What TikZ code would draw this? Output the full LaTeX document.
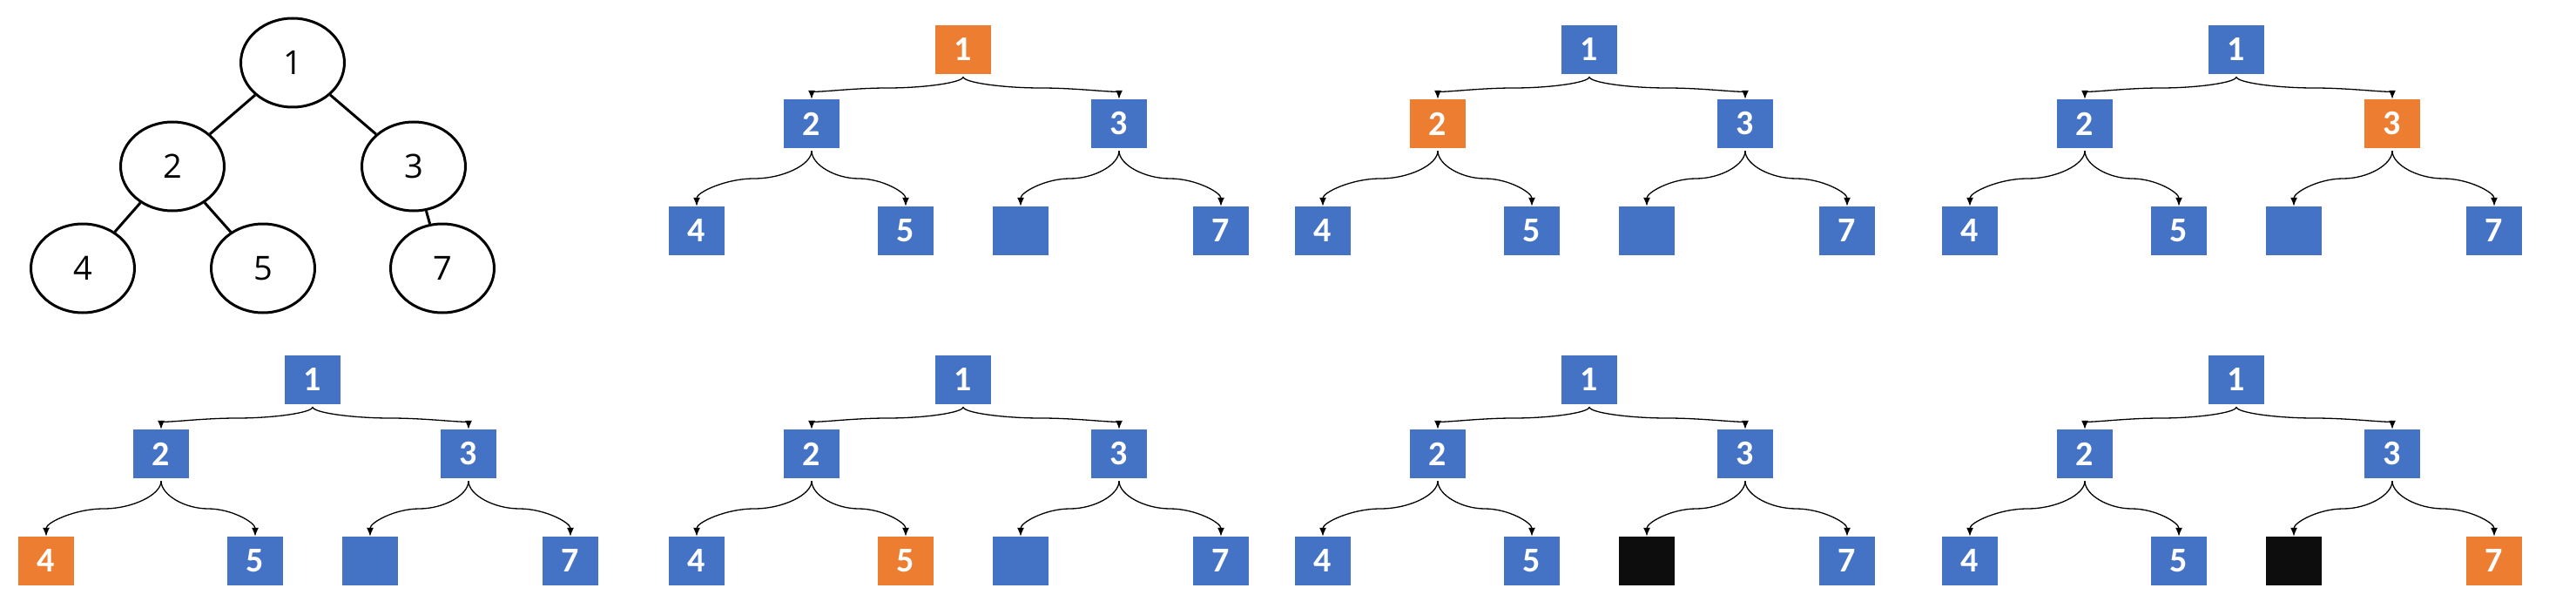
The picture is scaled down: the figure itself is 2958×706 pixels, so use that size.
\documentclass[tikz,border=0pt]{standalone}
\usepackage{fontspec}
\newfontfamily\boxfont{Carlito}
\newfontfamily\circfont{Open Sans}
\usetikzlibrary{calc,arrows.meta,shapes.geometric}
\definecolor{nblue}{HTML}{4472C4}
\definecolor{hot}{HTML}{ED7D31}
\definecolor{dark}{HTML}{0D0D0D}
\tikzset{
  sq/.style={rectangle, fill=nblue, minimum width=64pt, minimum height=56pt,
    inner sep=0pt, text=white, font=\boxfont\bfseries\fontsize{40}{48}\selectfont},
  circ/.style={ellipse, draw=black, line width=3pt, minimum width=119pt,
    minimum height=102pt, inner sep=0pt, font=\circfont\fontsize{38}{46}\selectfont},
  treeedge/.style={line width=3pt},
  conn/.style={line width=1.3pt, -{Latex[length=10pt,width=8pt]}},
  n1/.style={}, n2/.style={}, n3/.style={}, n4/.style={}, n5/.style={},
  n6/.style={}, n7/.style={}
}
\newcommand\conn[2]{%
  \path ([yshift=-3pt]#1.south) coordinate (s) (#2.north) coordinate (e)
    ($(s)!0.5!(e)$) coordinate (m) ($(s)!0.25!(e)$) coordinate (q1)
    ($(s)!0.75!(e)$) coordinate (q3);
  \draw[conn] (s) .. controls (s|-q1) and (q1|-m) .. (m)
    .. controls (q3|-m) and (e|-q3) .. (e);
}
\newcommand\bintree[4]{%
  \begin{scope}[shift={(#2,#3)},#4]
    \node[sq,n1] (#1-1) at (0,0) {1};
    \node[sq,n2] (#1-2) at (-174,85) {2};
    \node[sq,n3] (#1-3) at (179,85) {3};
    \node[sq,n4] (#1-4) at (-306,208) {4};
    \node[sq,n5] (#1-5) at (-66,208) {5};
    \node[sq,n6] (#1-6) at (66,208) {};
    \node[sq,n7] (#1-7) at (296,208) {7};
  \end{scope}
  \conn{#1-1}{#1-2}\conn{#1-1}{#1-3}
  \conn{#1-2}{#1-4}\conn{#1-2}{#1-5}
  \conn{#1-3}{#1-6}\conn{#1-3}{#1-7}
}
\begin{document}
\begin{tikzpicture}[x=1pt,y=-1pt]
  \useasboundingbox (0,0) rectangle (2958,706);
  % plain tree
  \node[circ] (c1) at (336,72) {1};
  \node[circ] (c2) at (198,191) {2};
  \node[circ] (c3) at (475,191) {3};
  \node[circ] (c4) at (95,308) {4};
  \node[circ] (c5) at (302,308) {5};
  \node[circ] (c7) at (508,308) {7};
  \draw[treeedge] (c1) -- (c2);
  \draw[treeedge] (c1) -- (c3);
  \draw[treeedge] (c2) -- (c4);
  \draw[treeedge] (c2) -- (c5);
  \draw[treeedge] (c3) -- (c7);
  % top row
  \bintree{ta}{1106}{57}{n1/.style={fill=hot}}
  \bintree{tb}{1825}{57}{n2/.style={fill=hot}}
  \bintree{tc}{2568}{57}{n3/.style={fill=hot}}
  % bottom row
  \bintree{bd}{359}{436}{n4/.style={fill=hot}}
  \bintree{be}{1106}{436}{n5/.style={fill=hot}}
  \bintree{bf}{1825}{436}{n6/.style={fill=dark}}
  \bintree{bg}{2568}{436}{n6/.style={fill=dark},n7/.style={fill=hot}}
\end{tikzpicture}
\end{document}
